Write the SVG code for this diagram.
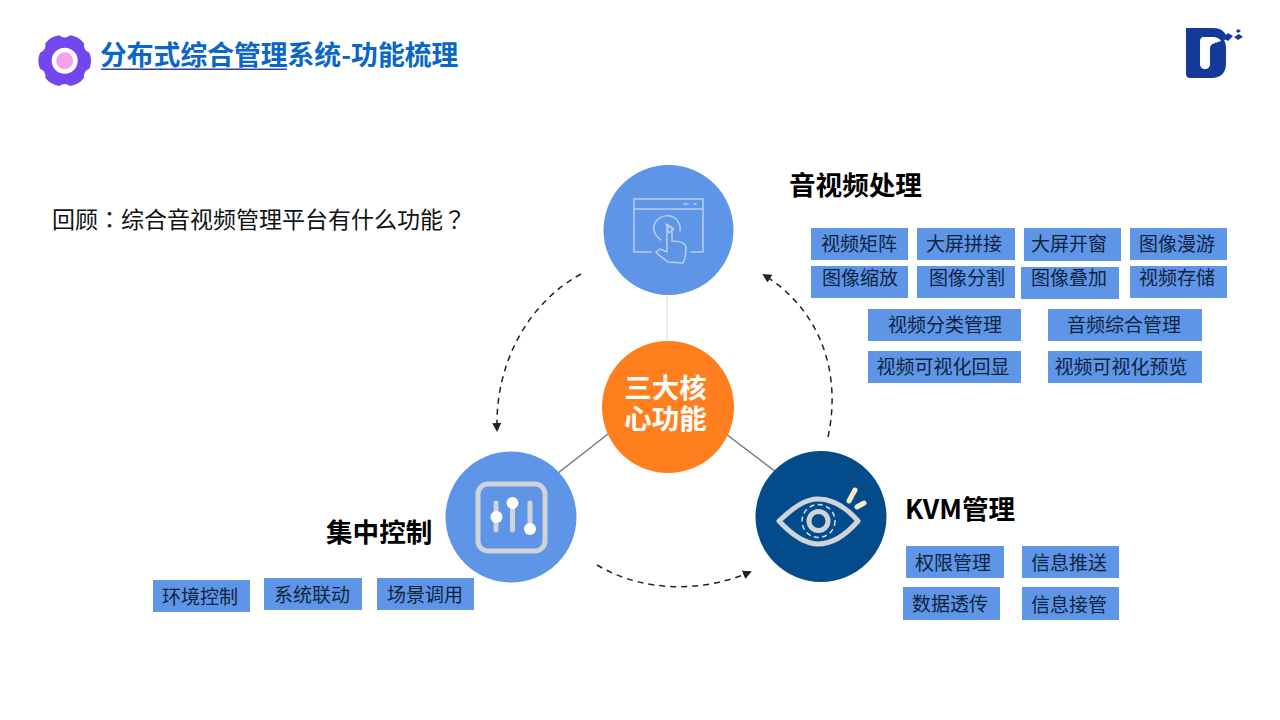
<svg xmlns="http://www.w3.org/2000/svg" width="1280" height="720" viewBox="0 0 1280 720">
<style>
text{font-family:"Microsoft YaHei","Noto Sans CJK SC","Liberation Sans",sans-serif}
.tag rect{fill:#5e95e6}
.tag text{font-size:19px;fill:#10233f;text-anchor:middle}
.head{font-size:26.6px;font-weight:700;fill:#000}
.dash{fill:none;stroke:#222;stroke-width:1.5;stroke-dasharray:6 5}
.ico{fill:none;stroke:#d0d3d8;stroke-linecap:round;stroke-linejoin:round}
.tc{font-family:"Noto Sans CJK TC",sans-serif}
</style>
<defs>
<marker id="ah" markerWidth="9" markerHeight="9" refX="7" refY="4.500" orient="auto" markerUnits="userSpaceOnUse"><path d="M0 0L9 4.500L0 9Z" fill="#222"/></marker>
</defs>
<rect width="1280" height="720" fill="#fff"/>
<g id="title">
<g transform="translate(64.700 60.700)">
<path fill="#7446ee" d="M24.700-8Q28 0 24.700 8Q18.200 10.500 19.300 17.400Q14 24.200 5.400 25.400Q0 21-5.400 25.400Q-14 24.200-19.300 17.400Q-18.200 10.500-24.700 8Q-28 0-24.700-8Q-18.200-10.500-19.300-17.400Q-14-24.200-5.400-25.400Q0-21 5.400-25.400Q14-24.200 19.300-17.400Q18.200-10.500 24.700-8Z"/>
<circle r="13" fill="#fff"/><circle r="8.500" fill="#f3a3ea"/>
</g>
<text x="100" y="65" font-size="26.800" font-weight="700" fill="#0a66c8">分布式综合管理系统-功能梳理</text>
<rect x="101" y="68.500" width="186" height="1.500" fill="#3a3fa8"/>
</g>
<g id="logo">
<path fill="#15399b" d="M1186 28H1213C1222 28 1226 33 1227 38L1222 42C1218 37 1216 37 1210 37H1204C1201 37 1200 39 1200 42V64C1200 67 1202 69 1205 69C1208 69 1210 67 1210 64V49C1210 45 1212 44 1215 43L1224 40C1225 42 1226 44 1226 48V64C1226 73 1220 78 1212 78H1190C1187 78 1186 76 1186 74Z"/>
<path fill="#15399b" d="M1223 38L1228 33L1233 36L1228 41ZM1234 37L1239 34L1243 37L1238 40ZM1236 31L1238 29L1241 31L1238 33Z"/>
</g>
<text id="question" x="52" y="228" font-size="23" fill="#111">回顾<tspan class="tc">：</tspan>综合音视频管理平台有什么功能<tspan class="tc">？</tspan></text>
<g id="connectors">
<line x1="667" y1="296" x2="667" y2="342" stroke="#d9d9d9"/>
<line x1="608" y1="434" x2="558" y2="473" stroke="#777" stroke-width="1.500"/>
<line x1="726" y1="434" x2="776" y2="472" stroke="#777" stroke-width="1.500"/>
<path class="dash" marker-end="url(#ah)" d="M581 274C528 303 495 363 497 430"/>
<path class="dash" marker-end="url(#ah)" d="M597 565C640 591 700 594 750 572"/>
<path class="dash" marker-end="url(#ah)" d="M828 437C842 372 820 310 764 275"/>
</g>
<g id="node-av">
<circle cx="668.500" cy="230" r="65" fill="#5e95e6"/>
<g fill="none" stroke="#b9cdea" stroke-width="1.500" stroke-linecap="round" stroke-linejoin="round">
<path d="M651 252H634V199H703V252H691"/><path d="M634 209H703"/>
<path d="M684 204H688M694 204H696"/>
<path d="M661 240C654 235 652 228 655 223C659 215 671 213 677 220C680 224 681 227 680 231"/>
<path d="M666 224L674 229L669 233Z"/>
<path d="M668 262C664 258 659 256 656 252L660 249L667 252V229C667 226 672 226 672 229V241C678 241 685 242 686 247C686 253 686 258 683 263Z"/>
</g>
</g>
<g id="node-core">
<circle cx="668" cy="407" r="66" fill="#ff7f1f"/>
<text x="665.500" y="398" font-size="27.500" font-weight="700" fill="#fff" text-anchor="middle">三大核</text>
<text x="665.500" y="429" font-size="27.500" font-weight="700" fill="#fff" text-anchor="middle">心功能</text>
</g>
<g id="node-control">
<circle cx="511" cy="517" r="65.500" fill="#5e95e6"/>
<rect x="478" y="484" width="67" height="67" rx="10" class="ico" stroke-width="5"/>
<path class="ico" stroke-width="5" d="M496 503V530M512.500 505V530M530 503V530" stroke-linecap="butt"/>
<circle cx="496.500" cy="517" r="6" fill="#fff"/><circle cx="512.500" cy="503" r="6" fill="#fff"/><circle cx="530" cy="529" r="6" fill="#fff"/>
</g>
<g id="node-kvm">
<circle cx="821" cy="516.500" r="65.500" fill="#034b8b"/>
<path class="ico" stroke-width="5" d="M779 521C795 506 806 499 818 499C832 499 845 506 858 521C845 536 832 544 818 544C806 544 793 536 779 521Z"/>
<circle cx="818.500" cy="521" r="9.500" class="ico" stroke-width="5"/>
<circle cx="818.500" cy="521" r="16.500" fill="none" stroke="#cfe0f2" stroke-width="1.500" stroke-dasharray="5 3.500"/>
<path fill="none" stroke="#f7efc0" stroke-width="5" stroke-linecap="round" d="M849 501L855 490M857 507L864 503"/>
</g>
<text id="label-av" class="head" x="789" y="195">音视频处理</text>
<text id="label-kvm" class="head" x="905" y="519">KVM管理</text>
<text id="label-control" class="head" x="326" y="542">集中控制</text>
<g id="tags-av" class="tag">
<rect x="811" y="228" width="97" height="32"/><text x="859" y="251">视频矩阵</text>
<rect x="917" y="228" width="98" height="32"/><text x="964" y="251">大屏拼接</text>
<rect x="1024" y="228" width="97" height="33"/><text x="1069" y="251">大屏开窗</text>
<rect x="1130" y="228" width="97" height="32"/><text x="1177" y="251">图像漫游</text>
<rect x="811" y="266" width="97" height="32"/><text x="860" y="285">图像缩放</text>
<rect x="917" y="266" width="98" height="32"/><text x="967" y="285">图像分割</text>
<rect x="1021" y="267" width="98" height="32"/><text x="1069" y="285">图像叠加</text>
<rect x="1130" y="266" width="97" height="32"/><text x="1177" y="285">视频存储</text>
<rect x="868" y="309" width="153" height="32"/><text x="945" y="332">视频分类管理</text>
<rect x="1048" y="309" width="154" height="32"/><text x="1124" y="332">音频综合管理</text>
<rect x="868" y="351" width="153" height="32"/><text x="943" y="374">视频可视化回显</text>
<rect x="1048" y="351" width="154" height="32"/><text x="1121" y="374">视频可视化预览</text>
</g>
<g id="tags-kvm" class="tag">
<rect x="906" y="546" width="98" height="32"/><text x="953" y="570">权限管理</text>
<rect x="1022" y="546" width="97" height="32"/><text x="1069" y="570">信息推送</text>
<rect x="903" y="587" width="97" height="33"/><text x="950" y="611">数据透传</text>
<rect x="1022" y="587" width="97" height="33"/><text x="1069" y="612">信息接管</text>
</g>
<g id="tags-control" class="tag">
<rect x="153" y="580" width="97" height="32"/><text x="200" y="604">环境控制</text>
<rect x="264" y="578" width="98" height="32"/><text x="312" y="602">系统联动</text>
<rect x="377" y="578" width="97" height="32"/><text x="425" y="602">场景调用</text>
</g>
</svg>
